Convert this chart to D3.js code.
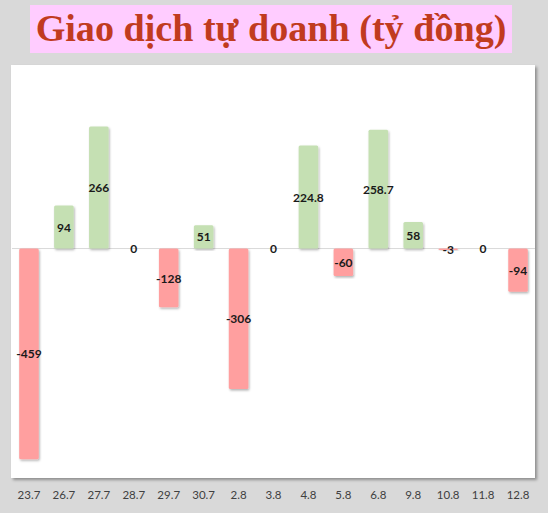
<!DOCTYPE html>
<html><head><meta charset="utf-8">
<script src="https://cdn.jsdelivr.net/npm/d3@7"></script>
<style>html,body{margin:0;padding:0;background:#d9d9d9;}svg{display:block;}</style>
</head><body>
<svg id="c" width="548" height="513"></svg>
<script>
const title = "Giao dịch tự doanh (tỷ đồng)";
const categories = ["23.7","26.7","27.7","28.7","29.7","30.7","2.8","3.8","4.8","5.8","6.8","9.8","10.8","11.8","12.8"];
const values = [-459, 94, 266, 0, -128, 51, -306, 0, 224.8, -60, 258.7, 58, -3, 0, -94];
const yDomain = [-500, 400];

const svg = d3.select("#c");
const defs = svg.append("defs");
const f1 = defs.append("filter").attr("id","plotShadow").attr("x","-5%").attr("y","-5%").attr("width","110%").attr("height","110%");
f1.append("feDropShadow").attr("dx",2).attr("dy",2).attr("stdDeviation",1.5).attr("flood-color","#000").attr("flood-opacity",0.35);
const f2 = defs.append("filter").attr("id","barShadow").attr("x","-30%").attr("y","-10%").attr("width","160%").attr("height","120%");
f2.append("feDropShadow").attr("dx",1).attr("dy",1.5).attr("stdDeviation",1).attr("flood-color","#000").attr("flood-opacity",0.3);

// title box
svg.append("rect").attr("x",30).attr("y",5).attr("width",482).attr("height",48).attr("fill","#ffccff");
const t = svg.append("text").attr("x",271).attr("y",41).attr("text-anchor","middle")
  .attr("font-family","'Liberation Serif','Times New Roman',serif").attr("font-weight","bold")
  .attr("font-size",36).attr("fill","#c13b1f").text(title);
const w = t.node().getComputedTextLength();
t.attr("font-size", 36*471/w);

// plot area
const plot = {x0:11, x1:535, y0:65, y1:478};
svg.append("rect").attr("x",plot.x0).attr("y",plot.y0).attr("width",plot.x1-plot.x0).attr("height",plot.y1-plot.y0)
  .attr("fill","#fff").attr("filter","url(#plotShadow)");

const x = d3.scaleBand().domain(categories).range([11.5,535.5]).paddingInner(0.44).paddingOuter(0.22);
const y = d3.scaleLinear().domain(yDomain).range([plot.y1, plot.y0]);

// zero line
svg.append("line").attr("x1",plot.x0+1).attr("x2",plot.x1).attr("y1",y(0)).attr("y2",y(0))
  .attr("stroke","#d9d9d9").attr("stroke-width",1);

const data = categories.map((c,i)=>({c, v: values[i]}));
svg.append("g").selectAll("rect").data(data.filter(d=>d.v!==0)).join("rect")
  .attr("x", d=>x(d.c)).attr("width", x.bandwidth())
  .attr("y", d=>Math.min(y(0), y(d.v))).attr("height", d=>Math.abs(y(d.v)-y(0)))
  .attr("rx",1.5)
  .attr("fill", d=>d.v>=0 ? "#c5e0b3" : "#ff9f9f")
  .attr("filter","url(#barShadow)");

svg.append("g").selectAll("text").data(data).join("text")
  .attr("x", d=>x(d.c)+x.bandwidth()/2)
  .attr("y", d=>(y(0)+y(d.v))/2 + 1.5)
  .attr("text-anchor","middle").attr("dominant-baseline","middle")
  .attr("font-family","Lato, 'Open Sans', sans-serif").attr("font-weight","bold").attr("font-size",12)
  .attr("fill","#1a1a1a").text(d=>d.v);

// x axis labels
const xAxis = d3.axisBottom(x).tickSize(0).tickPadding(0);
const gx = svg.append("g").attr("transform",`translate(0,${plot.y1+13})`).call(xAxis);
gx.select(".domain").remove();
gx.selectAll("text").attr("font-family","Lato, 'Open Sans', sans-serif").attr("font-size",11.5).attr("fill","#404040");
</script>
</body></html>
